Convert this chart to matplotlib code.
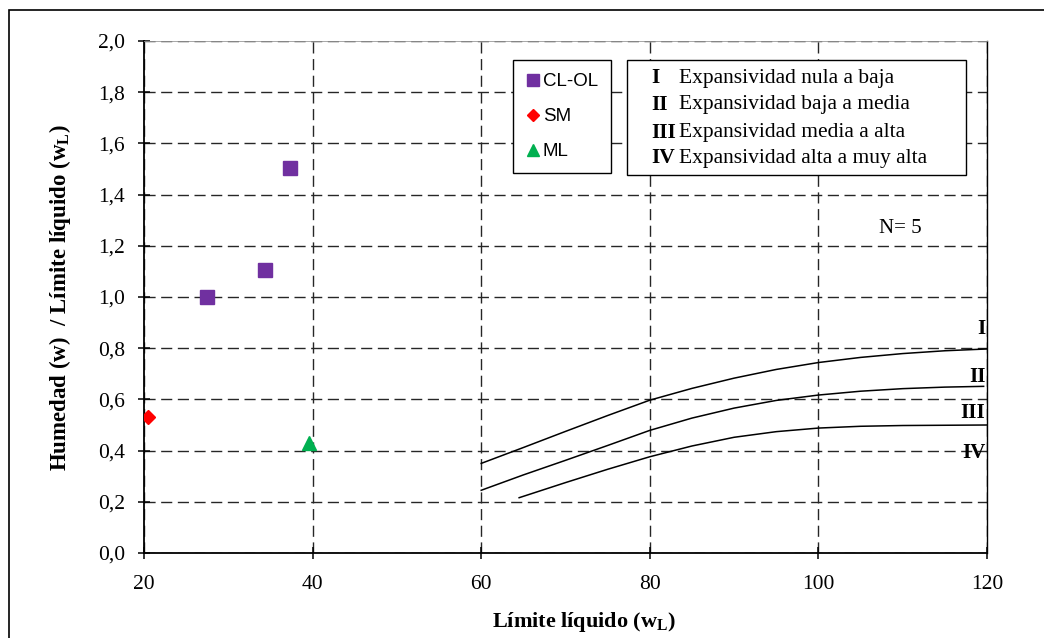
import matplotlib
matplotlib.use('Agg')
import matplotlib.pyplot as plt
from matplotlib.patches import Rectangle
from matplotlib.ticker import FuncFormatter

plt.rcParams['font.family'] = 'Liberation Serif'
plt.rcParams['mathtext.fontset'] = 'custom'
plt.rcParams['mathtext.rm'] = 'Liberation Serif'
plt.rcParams['mathtext.bf'] = 'Liberation Serif:bold'
plt.rcParams['mathtext.it'] = 'Liberation Serif:italic'

# samples
cl_x = [27.5, 34.4, 37.3]
cl_y = [1.00, 1.105, 1.505]
sm_x = [20.5]
sm_y = [0.53]
ml_x = [39.6]
ml_y = [0.43]

# expansivity boundaries
curve_1_x = [60, 65, 70, 75, 80, 85, 90, 95, 100, 105, 110, 115, 120]
curve_1_y = [0.35, 0.412, 0.475, 0.537, 0.597, 0.643, 0.683, 0.717, 0.744, 0.764, 0.779, 0.79, 0.797]
curve_2_x = [60, 65, 70, 75, 80, 85, 90, 95, 100, 105, 110, 115, 119.6]
curve_2_y = [0.245, 0.305, 0.362, 0.42, 0.479, 0.527, 0.566, 0.596, 0.617, 0.632, 0.642, 0.648, 0.651]
curve_3_x = [64.5, 70, 75, 80, 85, 90, 95, 100, 105, 110, 115, 120]
curve_3_y = [0.216, 0.275, 0.327, 0.376, 0.418, 0.452, 0.474, 0.488, 0.495, 0.498, 0.499, 0.5]

zone_names = ['I', 'II', 'III', 'IV']
zone_label_y = [0.875, 0.688, 0.547, 0.39]
zone_desc = ['Expansividad nula a baja', 'Expansividad baja a media',
             'Expansividad media a alta', 'Expansividad alta a muy alta']

x_ticks = [20, 40, 60, 80, 100, 120]
y_ticks = [0.0, 0.2, 0.4, 0.6, 0.8, 1.0, 1.2, 1.4, 1.6, 1.8, 2.0]

fig = plt.figure(figsize=(10.44, 6.38), dpi=100)
ax = fig.add_axes([144 / 1044, 85 / 638, 843 / 1044, 512 / 638])

ax.plot(cl_x, cl_y, ls='none', marker='s', ms=10, color='#7030A0', label='CL-OL', zorder=4)
ax.plot(sm_x, sm_y, ls='none', marker='D', ms=7.5, color='#FF0000', label='SM', zorder=4)
ax.plot(ml_x, ml_y, ls='none', marker='^', ms=10, color='#00B050', label='ML', zorder=4)

for cx, cy in [(curve_1_x, curve_1_y), (curve_2_x, curve_2_y), (curve_3_x, curve_3_y)]:
    ax.plot(cx, cy, color='black', lw=1.1, zorder=3)

for name, yy in zip(zone_names, zone_label_y):
    ax.text(119.8, yy, name, ha='right', va='center', fontsize=15, fontweight='bold', zorder=6)

ax.text(109.7, 1.266, 'N= 5', ha='center', va='center', fontsize=15)

ax.set_xlim(20, 120)
ax.set_ylim(0, 2.0)
ax.set_xticks(x_ticks)
ax.set_yticks(y_ticks)
ax.yaxis.set_major_formatter(FuncFormatter(lambda v, p: f'{v:.1f}'.replace('.', ',')))
ax.tick_params(axis='both', direction='inout', length=9, width=1.1, labelsize=15.5)
ax.tick_params(axis='x', pad=11)
ax.tick_params(axis='y', pad=9)

ax.grid(True, color='#262626', linestyle=(0, (8, 4)), lw=1.0)
ax.set_axisbelow(True)
for s in ['left', 'bottom']:
    ax.spines[s].set_linewidth(1.3)
ax.spines['right'].set_linewidth(1.0)
ax.spines['top'].set_color('#999999')
ax.spines['top'].set_linewidth(0.6)

leg = ax.legend(loc='upper left', bbox_to_anchor=((513 - 144) / 843, (553 - 60) / 512),
                borderaxespad=0, fancybox=False, framealpha=1, edgecolor='black',
                prop={'family': 'Liberation Sans', 'size': 13.5}, handlelength=0.7,
                handletextpad=0.2, labelspacing=0.95, borderpad=0.7, markerscale=0.85)
leg.get_frame().set_linewidth(1.0)
leg.set_zorder(5)

# second box with the zone descriptions
ax.add_patch(Rectangle(((627 - 144) / 843, (553 - 175) / 512), (966 - 627) / 843, (175 - 60) / 512,
                       transform=ax.transAxes, facecolor='white', edgecolor='black', lw=1.0, zorder=5))
box_rows = [(553 - 78) / 512, (553 - 105) / 512, (553 - 133) / 512, (553 - 158) / 512]
for name, desc, yy in zip(zone_names, zone_desc, box_rows):
    ax.text((651 - 144) / 843, yy, name, transform=ax.transAxes, ha='left', va='center',
            fontsize=15.5, fontweight='bold', zorder=6)
    ax.text((679 - 144) / 843, yy, desc, transform=ax.transAxes, ha='left', va='center',
            fontsize=15.5, zorder=6)

fig.text(584 / 1044, 1 - 622 / 638, r'Límite líquido (w$_{\mathbf{L}}$)', ha='center', va='center',
         fontsize=16, fontweight='bold')
fig.text(60 / 1044, 1 - 298 / 638, r'Humedad (w)  / Límite líquido (w$_{\mathbf{L}}$)', ha='center',
         va='center', rotation=90, fontsize=16.5, fontweight='bold')

# outer frame
fig.patches.append(Rectangle((9 / 1044, -0.1), 1.2, 1.1 - 10 / 638, transform=fig.transFigure,
                             fill=False, edgecolor='black', lw=1.2))

fig.savefig('out.png', dpi=100)
